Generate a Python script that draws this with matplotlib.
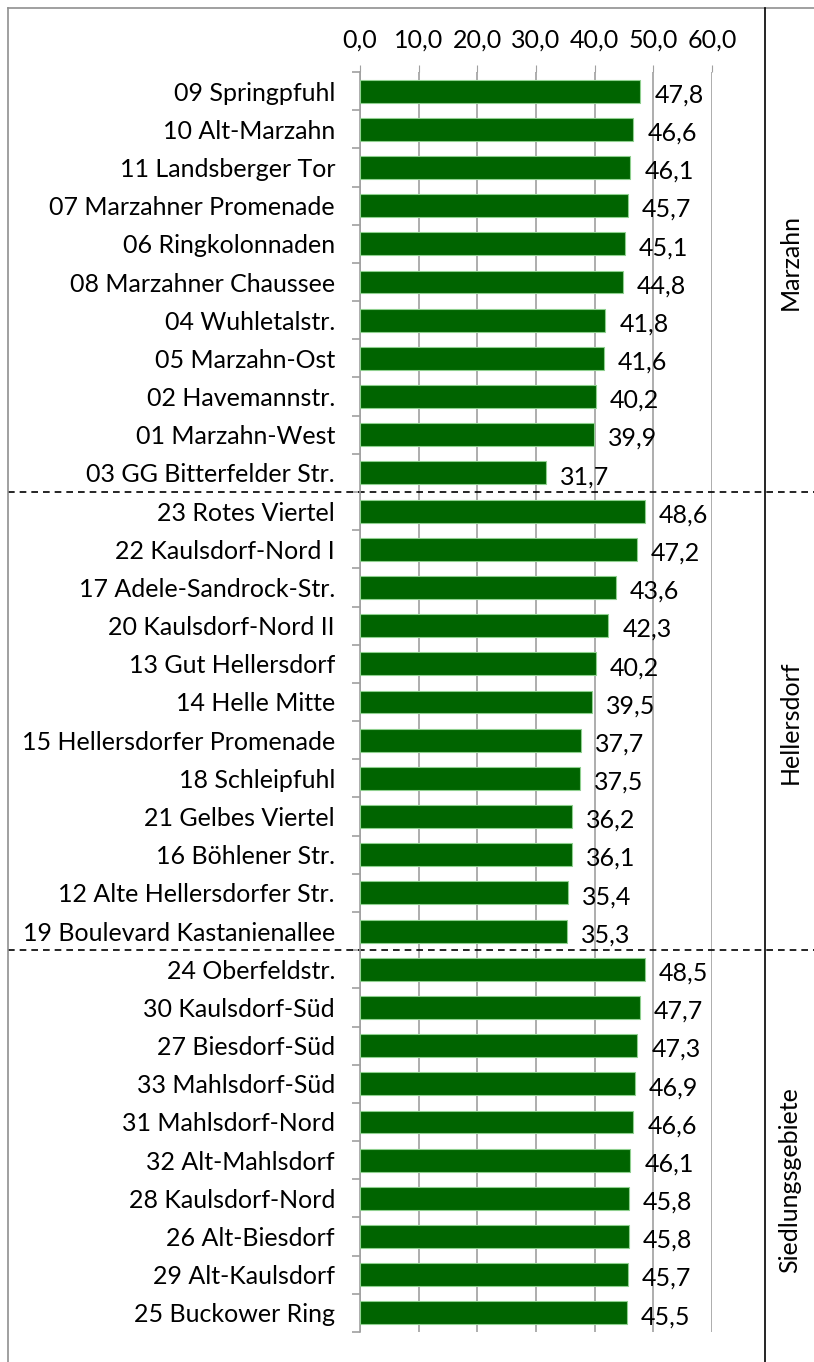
import matplotlib.pyplot as plt
import matplotlib.transforms as mtransforms
from matplotlib.lines import Line2D
from matplotlib.ticker import FuncFormatter, FixedLocator

marzahn = [
    "09 Springpfuhl", "10 Alt-Marzahn", "11 Landsberger Tor", "07 Marzahner Promenade",
    "06 Ringkolonnaden", "08 Marzahner Chaussee", "04 Wuhletalstr.", "05 Marzahn-Ost",
    "02 Havemannstr.", "01 Marzahn-West", "03 GG Bitterfelder Str.",
]
marzahn_vals = [47.8, 46.6, 46.1, 45.7, 45.1, 44.8, 41.8, 41.6, 40.2, 39.9, 31.7]

hellersdorf = [
    "23 Rotes Viertel", "22 Kaulsdorf-Nord I", "17 Adele-Sandrock-Str.", "20 Kaulsdorf-Nord II",
    "13 Gut Hellersdorf", "14 Helle Mitte", "15 Hellersdorfer Promenade", "18 Schleipfuhl",
    "21 Gelbes Viertel", "16 Böhlener Str.", "12 Alte Hellersdorfer Str.",
    "19 Boulevard Kastanienallee",
]
hellersdorf_vals = [48.6, 47.2, 43.6, 42.3, 40.2, 39.5, 37.7, 37.5, 36.2, 36.1, 35.4, 35.3]

siedlung = [
    "24 Oberfeldstr.", "30 Kaulsdorf-Süd", "27 Biesdorf-Süd", "33 Mahlsdorf-Süd",
    "31 Mahlsdorf-Nord", "32 Alt-Mahlsdorf", "28 Kaulsdorf-Nord", "26 Alt-Biesdorf",
    "29 Alt-Kaulsdorf", "25 Buckower Ring",
]
siedlung_vals = [48.5, 47.7, 47.3, 46.9, 46.6, 46.1, 45.8, 45.8, 45.7, 45.5]

groups = ["Marzahn", "Hellersdorf", "Siedlungsgebiete"]
x_ticks = [0, 10, 20, 30, 40, 50, 60]

labels = marzahn + hellersdorf + siedlung
values = marzahn_vals + hellersdorf_vals + siedlung_vals
sizes = [len(marzahn), len(hellersdorf), len(siedlung)]

FS = 18
plt.rcParams["font.family"] = ["Lato", "DejaVu Sans"]
W, H = 814, 1362
fig = plt.figure(figsize=(W / 100, H / 100), dpi=100)
ax = fig.add_axes([360 / W, 1 - 1332 / H, (712 - 360) / W, (1332 - 72) / H])

n = len(labels)
ypos = list(range(n))
ax.barh(ypos, values, height=0.6, color="#006400", edgecolor="#8fd08f", linewidth=0.8, zorder=3)
for y, v in zip(ypos, values):
    ax.text(v + 2.4, y + 0.1, f"{v:.1f}".replace(".", ","), va="center", ha="left",
            fontsize=FS, zorder=4)

ax.set_xlim(0, 60)
ax.set_ylim(n - 0.5, -0.5)
ax.set_xticks(x_ticks)
ax.xaxis.set_major_formatter(FuncFormatter(lambda v, p: f"{v:.1f}".replace(".", ",")))
ax.xaxis.tick_top()
ax.tick_params(axis="x", which="major", length=5, color="#a0a0a0", pad=10, labelsize=FS)
ax.grid(axis="x", color="#a0a0a0", linewidth=1.2, zorder=0)

ax.set_yticks(ypos)
ax.set_yticklabels(labels)
ax.tick_params(axis="y", which="major", length=0, pad=18, labelsize=FS)
ax.yaxis.set_minor_locator(FixedLocator([i - 0.5 for i in range(n + 1)]))
ax.tick_params(axis="y", which="minor", length=6, color="#a0a0a0", width=1.2)

for s in ["top", "right", "bottom"]:
    ax.spines[s].set_visible(False)
ax.spines["left"].set_color("#a0a0a0")
ax.spines["left"].set_linewidth(1.2)

# outer frame and group column line
fig.add_artist(Line2D([8 / W, 1], [1 - 8 / H, 1 - 8 / H], color="#909090", lw=1.2))
fig.add_artist(Line2D([8 / W, 8 / W], [0, 1 - 8 / H], color="#909090", lw=1.2))
fig.add_artist(Line2D([765 / W, 765 / W], [0, 1 - 8 / H], color="black", lw=1.2))

# group labels sit where the sheet put them, not exactly at group centres
label_px = [262, 722, 1180]
for g, py in zip(groups, label_px):
    fig.text(790 / W, 1 - py / H, g, rotation=90, ha="center", va="center", fontsize=FS)

trans = mtransforms.blended_transform_factory(fig.transFigure, ax.transData)
start = 0
for size in sizes[:-1]:
    start += size
    ax.add_artist(Line2D([8 / W, 1], [start - 0.5, start - 0.5], color="black", lw=1.2,
                         linestyle=(0, (4, 3)), transform=trans, clip_on=False))

fig.savefig("out.png", dpi=100)
